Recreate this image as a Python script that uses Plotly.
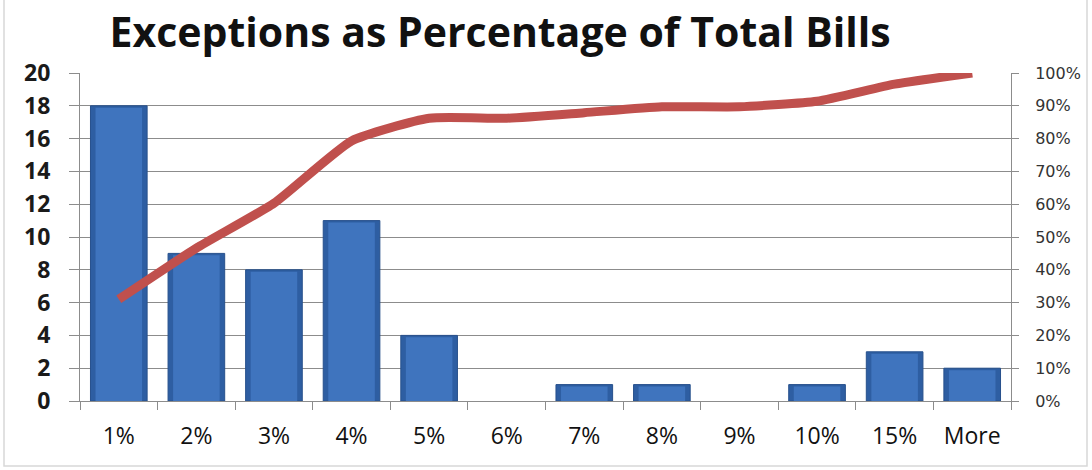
import plotly.graph_objects as go

# Exception bins (percentage of total bills) and their counts
bins = ["1%", "2%", "3%", "4%", "5%", "6%", "7%", "8%", "9%", "10%", "15%", "More"]
counts = [18, 9, 8, 11, 4, 0, 1, 1, 0, 1, 3, 2]
cumulative_pct = [0.310, 0.466, 0.603, 0.793, 0.862, 0.862, 0.879, 0.897, 0.897, 0.914, 0.966, 1.000]

left_ticks = list(range(0, 21, 2))
right_ticks = [i / 10 for i in range(11)]

W, H = 1092, 470
L, R, T, B = 80, 81, 73, 69

# empty bins get no outline so nothing is drawn for them
edge_widths = [1 if c > 0 else 0 for c in counts]

fig = go.Figure()

# Bars: darker outer body with a lighter inner face for a bevelled look
fig.add_trace(go.Bar(
    x=bins, y=counts, width=0.73,
    marker=dict(color="#2E5EA2", line=dict(color="#27508C", width=edge_widths)),
    hoverinfo="skip", showlegend=False,
))
fig.add_trace(go.Bar(
    x=bins, y=[max(c - 0.12, 0) for c in counts], width=0.6,
    marker=dict(color="#3F74BE", line=dict(width=0)),
    hoverinfo="skip", showlegend=False,
))

# Cumulative percentage line on the secondary axis
fig.add_trace(go.Scatter(
    x=bins, y=cumulative_pct, yaxis="y2", mode="lines",
    line=dict(color="#C0504D", width=9, shape="spline", smoothing=0.5),
    showlegend=False,
))

grid = "#8C8C8C"
fig.update_layout(
    width=W, height=H,
    margin=dict(l=L, r=R, t=T, b=B, pad=0),
    paper_bgcolor="white", plot_bgcolor="white",
    barmode="overlay",
    title=dict(
        text="<b>Exceptions as Percentage of Total Bills</b>",
        x=0.458, xanchor="center", y=0.93, yanchor="middle",
        font=dict(family="Open Sans", size=41, color="#111111"),
    ),
    xaxis=dict(
        type="category", tickson="boundaries", automargin=False,
        ticks="outside", ticklen=8, tickcolor=grid,
        showline=True, linecolor=grid, showgrid=False,
        ticklabelstandoff=14,
        tickfont=dict(family="Open Sans", size=23, color="#111111"),
    ),
    yaxis=dict(
        range=[0, 20], tickvals=left_ticks, automargin=False,
        ticks="outside", ticklen=10, tickcolor=grid,
        showline=True, linecolor=grid,
        showgrid=True, gridcolor=grid, gridwidth=1,
        zeroline=False, ticklabelstandoff=14,
        tickfont=dict(family="Open Sans", size=23, color="#1A1A1A", weight="bold"),
    ),
    yaxis2=dict(
        overlaying="y", side="right", range=[0, 1], tickvals=right_ticks,
        automargin=False,
        tickformat=".0%", ticks="outside", ticklen=7, tickcolor=grid,
        showline=True, linecolor=grid, showgrid=False, zeroline=False,
        ticklabelstandoff=13,
        tickfont=dict(family="DejaVu Sans", size=16, color="#333333"),
    ),
    shapes=[dict(
        type="rect", xref="paper", yref="paper",
        x0=(4 - L) / (W - L - R), x1=(1087 - L) / (W - L - R),
        y0=(H - B - 466) / (H - T - B), y1=(H - B + 10) / (H - T - B),
        line=dict(color="#D8D8D8", width=1.5), layer="below",
    )],
)

fig.write_html("out.html")
